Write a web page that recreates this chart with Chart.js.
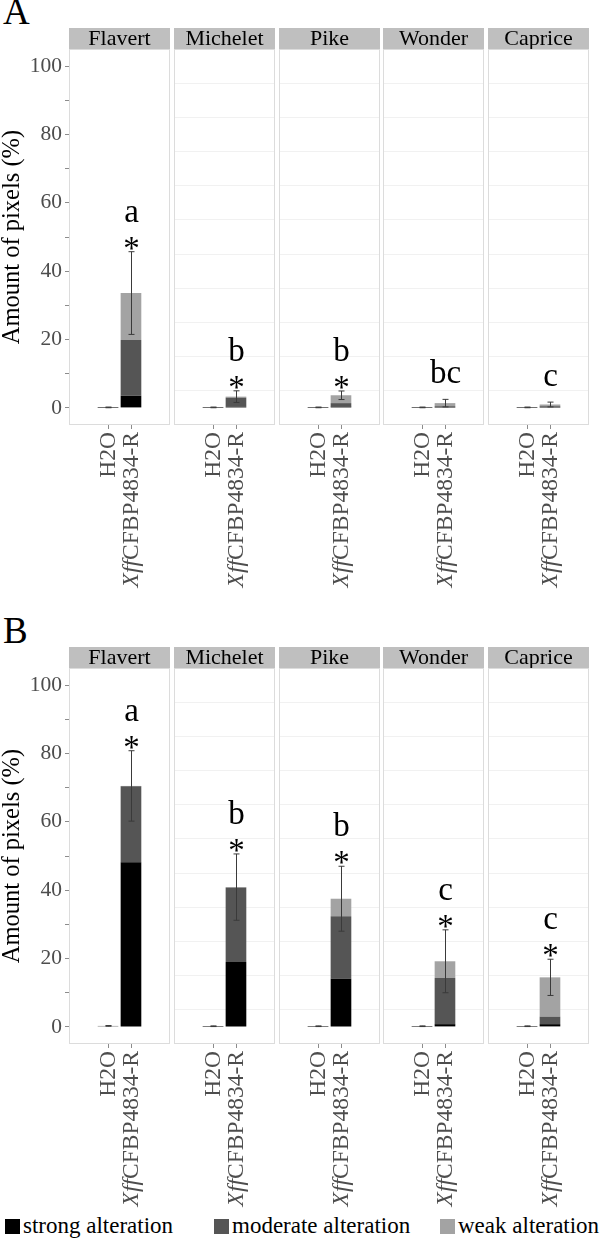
<!DOCTYPE html>
<html>
<head>
<meta charset="utf-8">
<script src="https://cdn.jsdelivr.net/npm/chart.js@4"></script>
<style>
  body { margin: 0; background: #fff; }
  #wrap { position: relative; width: 600px; height: 1246px; overflow: hidden;
          font-family: "Liberation Serif", "Times New Roman", serif; }
  .facet { position: absolute; }
  .tag { position: absolute; left: 3px; font-size: 37px; line-height: 1; color: #000; }
  .legend { position: absolute; top: 1211px; left: 0; height: 30px; font-size: 23px; color: #000; }
  .legend span { position: absolute; top: 0; white-space: nowrap; line-height: 30px; }
  .legend i { display: inline-block; width: 15px; height: 15px; margin-right: 3px; vertical-align: -1px; }
</style>
</head>
<body>
<div id="wrap"></div>
<script>
// categories
const cultivars = ['Flavert', 'Michelet', 'Pike', 'Wonder', 'Caprice'];
const treatments = ['H2O', 'XffCFBP4834-R'];
const italicPrefix = 'Xff';
const seriesNames = ['strong alteration', 'moderate alteration', 'weak alteration'];
const seriesColors = ['#000000', '#555555', '#a3a3a3'];
const yTickValues = [0, 5, 10, 15, 20, 25, 30, 35, 40, 45, 50, 55, 60, 65, 70, 75, 80, 85, 90, 95, 100];

// panel A, one [H2O, Xff] pair per cultivar
const strongA   = [[0.02, 3.6], [0.02, 0.3], [0.02, 0.4], [0.02, 0.1], [0.02, 0.1]];
const moderateA = [[0.08, 16.3], [0.08, 2.7], [0.08, 1.0], [0.08, 0.4], [0.08, 0.4]];
const weakA     = [[0.05, 13.7], [0.05, 0.3], [0.05, 2.3], [0.05, 0.9], [0.05, 0.5]];
const sdA       = [[0.1, 12.1], [0.1, 1.7], [0.1, 1.25], [0.1, 1.1], [0.1, 0.7]];
const lettersA  = ['a', 'b', 'b', 'bc', 'c'];
const starsA    = [true, true, true, false, false];

// panel B
const strongB   = [[0.15, 48.2], [0.05, 19.0], [0.05, 14.1], [0.05, 0.8], [0.05, 0.8]];
const moderateB = [[0.1, 22.2], [0.1, 21.8], [0.1, 18.3], [0.1, 13.5], [0.1, 2.2]];
const weakB     = [[0.05, 0.1], [0.05, 0.1], [0.05, 5.1], [0.05, 4.9], [0.05, 11.5]];
const sdB       = [[0.1, 10.3], [0.1, 9.7], [0.1, 9.5], [0.1, 9.2], [0.1, 5.3]];
const lettersB  = ['a', 'b', 'b', 'c', 'c'];
const starsB    = [true, true, true, true, true];

const panels = [
  { tag: 'A', top: 28, series: [strongA, moderateA, weakA], sd: sdA, letters: lettersA, stars: starsA },
  { tag: 'B', top: 647, series: [strongB, moderateB, weakB], sd: sdB, letters: lettersB, stars: starsB }
];

// layout
const firstLeft = 69, facetStep = 104.8, facetWidth = 101, axisWidth = 69;
const stripH = 21, plotH = 376, labelH = 165;
const serif = '"Liberation Serif", "Times New Roman", serif';

const facetPlugin = {
  id: 'facet',
  beforeDraw(chart, args, opts) {
    const { ctx, chartArea: a } = chart;
    ctx.save();
    ctx.fillStyle = '#bfbfbf';
    ctx.fillRect(a.left, 0, a.right - a.left, a.top);
    ctx.fillStyle = '#000';
    ctx.font = '22px ' + serif;
    ctx.textAlign = 'center';
    ctx.textBaseline = 'middle';
    ctx.fillText(opts.title, (a.left + a.right) / 2, a.top / 2 + 1);
    ctx.restore();
  },
  afterDatasetsDraw(chart, args, opts) {
    const { ctx, scales: { x, y } } = chart;
    ctx.save();
    treatments.forEach((t, i) => {
      const total = chart.data.datasets.reduce((s, d) => s + d.data[i].y, 0);
      const sd = opts.sd[i];
      const px = Math.round(x.getPixelForValue(i + 1)) + 0.5;
      const top = y.getPixelForValue(total + sd);
      const bot = y.getPixelForValue(total - sd);
      ctx.strokeStyle = '#3a3a3a';
      ctx.lineWidth = 1;
      ctx.beginPath();
      ctx.moveTo(px, top); ctx.lineTo(px, bot);
      ctx.moveTo(px - 3, top); ctx.lineTo(px + 3, top);
      ctx.moveTo(px - 3, bot); ctx.lineTo(px + 3, bot);
      ctx.stroke();
      if (i === 1) {
        ctx.fillStyle = '#000';
        ctx.textAlign = 'center';
        ctx.textBaseline = 'alphabetic';
        ctx.font = '33px ' + serif;
        if (opts.star) {
          ctx.fillText('*', px, top + 7);
          ctx.fillText(opts.letter, px, top - 30);
        } else {
          ctx.fillText(opts.letter, px, top - 16);
        }
      }
    });
    ctx.restore();
  },
  afterDraw(chart) {
    const { ctx, chartArea: a, scales: { x } } = chart;
    ctx.save();
    ctx.strokeStyle = '#dcdcdc';
    ctx.lineWidth = 1;
    ctx.strokeRect(Math.round(a.left) + 0.5, Math.round(a.top) + 0.5,
                   Math.round(a.right - a.left) - 1, Math.round(a.bottom - a.top) - 1);
    treatments.forEach((t, i) => {
      const px = Math.round(x.getPixelForValue(i + 1)) + 0.5;
      ctx.strokeStyle = '#8c8c8c';
      ctx.beginPath();
      ctx.moveTo(px, a.bottom); ctx.lineTo(px, a.bottom + 4);
      ctx.stroke();
      ctx.save();
      ctx.translate(px, a.bottom + 7);
      ctx.rotate(-Math.PI / 2);
      ctx.fillStyle = '#4d4d4d';
      ctx.textAlign = 'right';
      ctx.textBaseline = 'middle';
      ctx.font = '23.5px ' + serif;
      if (t.startsWith(italicPrefix)) {
        const rest = t.slice(italicPrefix.length);
        ctx.fillText(rest, 0, 0);
        const w = ctx.measureText(rest).width;
        ctx.font = 'italic 23.5px ' + serif;
        ctx.fillText(italicPrefix, -w, 0);
      } else {
        ctx.fillText(t, 0, 0);
      }
      ctx.restore();
    });
    ctx.restore();
  }
};

const wrap = document.getElementById('wrap');

function makeFacet(panel, f) {
  const first = f === 0;
  const left = first ? 0 : Math.round(firstLeft + f * facetStep);
  const width = first ? axisWidth + facetWidth : facetWidth;
  const height = stripH + plotH + labelH;
  const div = document.createElement('div');
  div.className = 'facet';
  div.style.left = left + 'px';
  div.style.top = panel.top + 'px';
  const canvas = document.createElement('canvas');
  canvas.width = width;
  canvas.height = height;
  div.appendChild(canvas);
  wrap.appendChild(div);

  new Chart(canvas, {
    type: 'bar',
    data: {
      datasets: seriesNames.map((name, s) => ({
        label: name,
        data: treatments.map((t, i) => ({ x: i + 1, y: panel.series[s][f][i] })),
        backgroundColor: seriesColors[s],
        borderWidth: 0,
        barPercentage: 0.9,
        categoryPercentage: 1
      }))
    },
    options: {
      responsive: false,
      animation: false,
      layout: { padding: { top: stripH, bottom: labelH, left: 0, right: 0 } },
      plugins: {
        legend: { display: false },
        tooltip: { enabled: false },
        facet: { title: cultivars[f], sd: panel.sd[f], letter: panel.letters[f], star: panel.stars[f] }
      },
      scales: {
        x: {
          type: 'linear', min: 0.4, max: 2.6, stacked: true, display: false,
          afterBuildTicks: s => { s.ticks = treatments.map((t, i) => ({ value: i + 1 })); }
        },
        y: {
          stacked: true, min: -5, max: 105,
          afterBuildTicks: s => { s.ticks = yTickValues.map(v => ({ value: v })); },
          afterFit: s => { s.width = first ? axisWidth : 0; },
          border: { display: false },
          grid: {
            drawTicks: first,
            tickLength: 4,
            color: c => (c.tick && c.tick.value % 10 === 5) ? '#f1f1f1' : 'rgba(0,0,0,0)',
            tickColor: c => (c.tick && c.tick.value % 10 === 0) ? '#8c8c8c' : 'rgba(0,0,0,0)'
          },
          ticks: {
            display: first,
            padding: 3,
            color: '#4d4d4d',
            font: { family: serif, size: 21.5 },
            callback: v => (v % 20 === 0 ? v : '')
          },
          title: {
            display: first,
            text: 'Amount of pixels (%)',
            color: '#000',
            font: { family: serif, size: 24.5 },
            padding: { top: -2, bottom: 0 }
          }
        }
      }
    },
    plugins: [facetPlugin]
  });
}

panels.forEach(panel => {
  const tag = document.createElement('div');
  tag.className = 'tag';
  tag.style.top = (panel.top - 35) + 'px';
  tag.textContent = panel.tag;
  wrap.appendChild(tag);
  cultivars.forEach((c, f) => makeFacet(panel, f));
});

// legend
const legend = document.createElement('div');
legend.className = 'legend';
const legendLeft = [5, 214, 440];
seriesNames.forEach((name, s) => {
  const item = document.createElement('span');
  item.style.left = legendLeft[s] + 'px';
  const sw = document.createElement('i');
  sw.style.background = seriesColors[s];
  item.appendChild(sw);
  item.appendChild(document.createTextNode(name));
  legend.appendChild(item);
});
wrap.appendChild(legend);
</script>
</body>
</html>
